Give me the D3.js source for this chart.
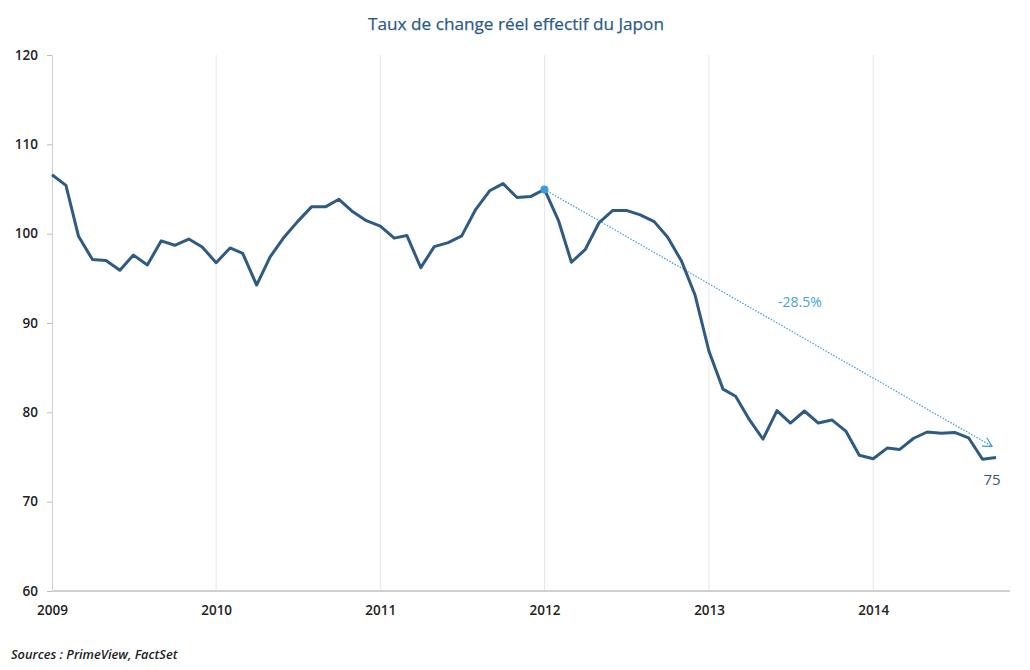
<!DOCTYPE html>
<html>
<head>
<meta charset="utf-8">
<script src="https://cdn.jsdelivr.net/npm/d3@7"></script>
<style>
  body { margin: 0; background: #fff; }
  text { font-family: "Open Sans", sans-serif; }
</style>
</head>
<body>
<div id="chart"></div>
<script>
// monthly values, Jan 2009 -> Oct 2014
var startYear = 2009;
var values = [
    106.6, 105.4, 99.7, 97.1, 97.0, 95.9, 97.6, 96.5, 99.2, 98.7, 99.4, 98.5,
    96.75, 98.4, 97.8, 94.25, 97.4, 99.6, 101.35, 103.0, 103.0, 103.85, 102.45, 101.45,
    100.85, 99.5, 99.8, 96.2, 98.55, 99.0, 99.75, 102.7, 104.8, 105.6, 104.05, 104.15,
    104.95, 101.5, 96.8, 98.25, 101.2, 102.6, 102.6, 102.1, 101.35, 99.6, 96.9, 93.1,
    86.8, 82.6, 81.8, 79.15, 77.0, 80.2, 78.8, 80.15, 78.8, 79.15, 77.9, 75.2,
    74.8, 76.0, 75.85, 77.1, 77.8, 77.65, 77.75, 77.15, 74.75, 74.95
];
var yTicks = [60, 70, 80, 90, 100, 110, 120];
var xTickYears = [2009, 2010, 2011, 2012, 2013, 2014];
var arrowFrom = { month: 36, value: 104.95 };
var arrowTo = { month: 69, value: 76.2 };
var arrowLabel = "-28.5%";
var lastLabel = "75";

var width = 1030, height = 670;

var data = values.map(function (v, i) {
    return { date: new Date(startYear, i, 1), value: v };
});

var svg = d3.select("#chart").append("svg")
    .attr("width", width)
    .attr("height", height);

var xScale = d3.scaleTime()
    .domain([new Date(2009, 0, 1), new Date(2014, 9, 1)])
    .range([52, 996]);
var yScale = d3.scaleLinear().domain([60, 120]).range([591, 55]);

// title
svg.append("text")
    .attr("x", 516).attr("y", 30)
    .attr("text-anchor", "middle")
    .attr("font-size", 17.2)
    .attr("fill", "#2c5b86")
    .attr("stroke", "#2c5b86")
    .attr("stroke-width", 0.25)
    .text("Taux de change réel effectif du Japon");

// vertical grid lines at years
svg.append("g").selectAll("line")
    .data(xTickYears.slice(1))
    .enter().append("line")
    .attr("x1", function (d) { return xScale(new Date(d, 0, 1)); })
    .attr("x2", function (d) { return xScale(new Date(d, 0, 1)); })
    .attr("y1", yScale(120)).attr("y2", yScale(60))
    .attr("stroke", "#e6e6e6")
    .attr("stroke-width", 1);

// y axis
var yAxis = d3.axisLeft(yScale).tickValues(yTicks).tickSize(5).tickPadding(9);
var yG = svg.append("g")
    .attr("transform", "translate(52,0)")
    .call(yAxis);
yG.select(".domain").attr("stroke", "#cfcfcf");
yG.selectAll(".tick line").attr("stroke", "#bdbdbd");
yG.selectAll(".tick text")
    .attr("font-family", "Open Sans, sans-serif")
    .attr("font-size", 13.5)
    .attr("font-weight", 600)
    .attr("fill", "#222");

// x axis
var xAxis = d3.axisBottom(xScale)
    .tickValues(xTickYears.map(function (y) { return new Date(y, 0, 1); }))
    .tickFormat(d3.timeFormat("%Y"))
    .tickSize(0).tickPadding(14);
var xG = svg.append("g")
    .attr("transform", "translate(0,591)")
    .call(xAxis);
xG.select(".domain").remove();
xG.selectAll(".tick text")
    .attr("font-family", "Open Sans, sans-serif")
    .attr("font-size", 13.5)
    .attr("font-weight", 600)
    .attr("fill", "#222");
svg.append("line")
    .attr("x1", 52).attr("x2", 1010)
    .attr("y1", 591).attr("y2", 591)
    .attr("stroke", "#d0d0d0").attr("stroke-width", 2);

// trend arrow
var ax1 = xScale(new Date(startYear, arrowFrom.month, 1)), ay1 = yScale(arrowFrom.value);
var ax2 = xScale(new Date(startYear, arrowTo.month, 1)) - 4, ay2 = yScale(arrowTo.value);
svg.append("line")
    .attr("x1", ax1).attr("y1", ay1)
    .attr("x2", ax2).attr("y2", ay2)
    .attr("stroke", "#3d9bdb")
    .attr("stroke-width", 1.2)
    .attr("stroke-dasharray", "1.5,1.5");
var ang = Math.atan2(ay2 - ay1, ax2 - ax1);
var hl = 10;
svg.append("polyline")
    .attr("points", [
        [ax2 - hl * Math.cos(ang - 0.5), ay2 - hl * Math.sin(ang - 0.5)],
        [ax2, ay2],
        [ax2 - hl * Math.cos(ang + 0.5), ay2 - hl * Math.sin(ang + 0.5)]
    ].map(function (p) { return p.join(","); }).join(" "))
    .attr("fill", "none")
    .attr("stroke", "#3d9bdb")
    .attr("stroke-width", 1.2);

svg.append("text")
    .attr("x", 800).attr("y", 307)
    .attr("text-anchor", "middle")
    .attr("font-family", "Roboto, sans-serif")
    .attr("font-size", 14)
    .attr("fill", "#4a9fd9")
    .text(arrowLabel);

// main line
var line = d3.line()
    .x(function (d) { return xScale(d.date); })
    .y(function (d) { return yScale(d.value); });

svg.append("path")
    .datum(data)
    .attr("d", line)
    .attr("fill", "none")
    .attr("stroke", "#2f5b82")
    .attr("stroke-width", 3)
    .attr("stroke-linejoin", "round");

// start marker of the arrow
svg.append("circle")
    .attr("cx", ax1).attr("cy", ay1)
    .attr("r", 4)
    .attr("fill", "#3d9bdb");

// last value label
svg.append("text")
    .attr("x", xScale(data[data.length - 1].date) - 4)
    .attr("y", 485)
    .attr("text-anchor", "middle")
    .attr("font-family", "Roboto, sans-serif")
    .attr("font-size", 15)
    .attr("fill", "#3b5873")
    .text(lastLabel);

// sources
svg.append("text")
    .attr("x", 11).attr("y", 659)
    .attr("font-size", 12.8)
    .attr("font-style", "italic")
    .attr("font-weight", 600)
    .attr("fill", "#222")
    .text("Sources : PrimeView, FactSet");
</script>
</body>
</html>
